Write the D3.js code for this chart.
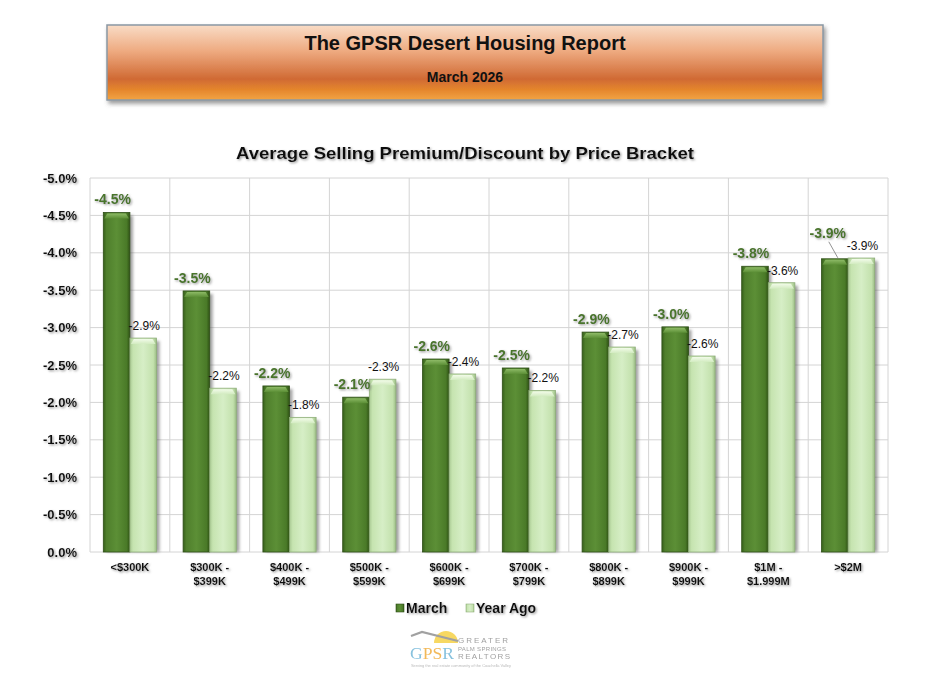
<!DOCTYPE html>
<html><head><meta charset="utf-8">
<script src="https://cdn.jsdelivr.net/npm/d3@7"></script>
<style>body{margin:0;background:#fff;}svg{display:block;font-family:"Liberation Sans",Arial,sans-serif;}</style>
</head><body><svg id="c" width="930" height="676"></svg>
<script>
const categories = ["<$300K","$300K - $399K","$400K - $499K","$500K - $599K","$600K - $699K","$700K - $799K","$800K - $899K","$900K - $999K","$1M - $1.999M",">$2M"];
const categoryLines = [["<$300K"],["$300K -","$399K"],["$400K -","$499K"],["$500K -","$599K"],["$600K -","$699K"],["$700K -","$799K"],["$800K -","$899K"],["$900K -","$999K"],["$1M -","$1.999M"],[">$2M"]];
const seriesNames = ["March","Year Ago"];
const marchValues = [-4.54,-3.49,-2.22,-2.07,-2.58,-2.46,-2.94,-3.01,-3.82,-3.92];
const yearAgoValues = [-2.86,-2.19,-1.80,-2.31,-2.38,-2.16,-2.74,-2.62,-3.60,-3.93];
const tickValues = [0,-0.5,-1,-1.5,-2,-2.5,-3,-3.5,-4,-4.5,-5];
const headerTitle = "The GPSR Desert Housing Report";
const headerSub = "March 2026";
const chartTitle = "Average Selling Premium/Discount by Price Bracket";

const svg = d3.select("#c");
const defs = svg.append("defs");

const hg = defs.append("linearGradient").attr("id","hdr").attr("x1",0).attr("y1",0).attr("x2",0).attr("y2",1);
[[0,"#f9dcc6"],[0.35,"#eeaa80"],[0.72,"#d06a34"],[0.86,"#e4852c"],[1,"#f2a444"]].forEach(s=>hg.append("stop").attr("offset",s[0]).attr("stop-color",s[1]));
const mg = defs.append("linearGradient").attr("id","mg").attr("x1",0).attr("x2",1).attr("y1",0).attr("y2",0);
[[0,"#365f1a"],[0.12,"#4f7f2c"],[0.5,"#5c8f36"],[0.88,"#4a7a28"],[1,"#2f5214"]].forEach(s=>mg.append("stop").attr("offset",s[0]).attr("stop-color",s[1]));
const yg = defs.append("linearGradient").attr("id","yg").attr("x1",0).attr("x2",1).attr("y1",0).attr("y2",0);
[[0,"#a9c993"],[0.12,"#c6e4b0"],[0.5,"#d6eec6"],[0.88,"#c3e1ad"],[1,"#9cbd86"]].forEach(s=>yg.append("stop").attr("offset",s[0]).attr("stop-color",s[1]));
const tg = defs.append("linearGradient").attr("id","mtop").attr("x1",0).attr("x2",0).attr("y1",0).attr("y2",1);
tg.append("stop").attr("offset",0).attr("stop-color","#8dba66");
tg.append("stop").attr("offset",1).attr("stop-color","#5c8f36");
const tg2 = defs.append("linearGradient").attr("id","ytop").attr("x1",0).attr("x2",0).attr("y1",0).attr("y2",1);
tg2.append("stop").attr("offset",0).attr("stop-color","#f2fbe9");
tg2.append("stop").attr("offset",1).attr("stop-color","#d2ebc0");

const ts = defs.append("filter").attr("id","ts").attr("x","-20%").attr("y","-40%").attr("width","140%").attr("height","180%");
ts.append("feDropShadow").attr("dx",1.2).attr("dy",1.2).attr("stdDeviation",0.9).attr("flood-color","#777").attr("flood-opacity",0.75);
const bs = defs.append("filter").attr("id","bs").attr("x","-30%").attr("y","-10%").attr("width","180%").attr("height","120%");
bs.append("feGaussianBlur").attr("stdDeviation",1.6);
const hs = defs.append("filter").attr("id","hs").attr("x","-5%").attr("y","-20%").attr("width","110%").attr("height","150%");
hs.append("feDropShadow").attr("dx",2).attr("dy",3).attr("stdDeviation",2).attr("flood-color","#555").attr("flood-opacity",0.6);

// header banner
svg.append("rect").attr("x",107).attr("y",25).attr("width",716).attr("height",75)
  .attr("fill","url(#hdr)").attr("stroke","#8a98a4").attr("stroke-width",1.5).attr("filter","url(#hs)");
svg.append("text").attr("x",465).attr("y",50).attr("text-anchor","middle").attr("font-weight","bold")
  .attr("font-size",20).attr("fill","#111").text(headerTitle);
svg.append("text").attr("x",465).attr("y",82).attr("text-anchor","middle").attr("font-weight","bold")
  .attr("font-size",14).attr("fill","#111").text(headerSub);

// chart title
svg.append("text").attr("x",465).attr("y",159).attr("text-anchor","middle").attr("font-weight","bold")
  .attr("font-size",17).attr("textLength",458).attr("lengthAdjust","spacingAndGlyphs")
  .attr("fill","#111").attr("filter","url(#ts)").text(chartTitle);

const x = d3.scaleBand().domain(categories).range([90,888]).paddingInner(0).paddingOuter(0);
const xs = d3.scaleBand().domain(seriesNames).range([0,x.bandwidth()]).paddingInner(0).paddingOuter(0.5);
const y = d3.scaleLinear().domain([0,-5]).range([552,178]);
const fmt = v=>v.toFixed(1)+"%";

// gridlines
const grid = svg.append("g");
grid.selectAll("line.h").data(tickValues).join("line").attr("class","h")
  .attr("x1",90).attr("x2",888).attr("y1",d=>y(d)).attr("y2",d=>y(d))
  .attr("stroke","#d4d4d4").attr("stroke-width",1);
const vEdges = categories.map(c=>x(c)).concat([x(categories[categories.length-1])+x.bandwidth()]);
grid.selectAll("line.v").data(vEdges).join("line").attr("class","v")
  .attr("x1",d=>d).attr("x2",d=>d).attr("y1",y(-5)).attr("y2",y(0)).attr("stroke","#d4d4d4").attr("stroke-width",1);

// y axis labels
const yAxis = d3.axisLeft(y).tickValues(tickValues).tickSize(0).tickPadding(0).tickFormat(d=>fmt(d));
const ya = svg.append("g").attr("transform","translate(77,0)").call(yAxis);
ya.select(".domain").remove();
ya.selectAll("text").attr("font-family","'Liberation Sans',Arial,sans-serif").attr("font-size",13)
  .attr("font-weight","bold").attr("fill","#111").attr("filter","url(#ts)");

// bars
const data = categories.map((c,i)=>({c,i,vals:[{s:"March",v:marchValues[i]},{s:"Year Ago",v:yearAgoValues[i]}]}));
const groups = svg.append("g").selectAll("g").data(data).join("g").attr("transform",d=>`translate(${x(d.c)},0)`);
const bw = xs.bandwidth();
groups.each(function(d){
  const g = d3.select(this);
  d.vals.forEach(o=>{
    const bx = xs(o.s), top = y(o.v), h = y(0)-top;
    g.append("rect").attr("x",bx+3).attr("y",top+3).attr("width",bw).attr("height",h-3)
      .attr("fill","#555").attr("opacity",0.55).attr("filter","url(#bs)");
  });
  d.vals.forEach(o=>{
    const bx = xs(o.s), top = y(o.v), h = y(0)-top;
    const isM = o.s==="March";
    g.append("rect").attr("x",bx).attr("y",top).attr("width",bw).attr("height",h)
      .attr("fill",isM?"url(#mg)":"url(#yg)").attr("stroke",isM?"#2f4f18":"#8fae7a").attr("stroke-width",0.8);
    g.append("path").attr("d",`M${bx+1},${top+6} L${bx+4},${top+1} L${bx+bw-4},${top+1} L${bx+bw-1},${top+6} Z`)
      .attr("fill",isM?"url(#mtop)":"url(#ytop)");
  });
});

// value labels
groups.each(function(d){
  const g = d3.select(this);
  const m = d.vals[0], ya2 = d.vals[1];
  const last = d.i===categories.length-1;
  const mx = xs("March")+bw/2 + (last?-7:-4);
  const my = y(m.v) - (last?21:8);
  if(last){
    g.append("line").attr("x1",mx+1).attr("y1",my+4).attr("x2",xs("March")+bw/2+3).attr("y2",y(m.v)-1)
      .attr("stroke","#777").attr("stroke-width",0.8);
  }
  g.append("text").attr("x",mx).attr("y",my).attr("text-anchor","middle").attr("font-weight","bold")
    .attr("font-size",14).attr("fill","#4a752c").attr("filter","url(#ts)").text(fmt(m.v));
  g.append("text").attr("x",xs("Year Ago")+bw/2+1).attr("y",y(ya2.v)-8).attr("text-anchor","middle")
    .attr("font-size",12).attr("fill","#111").text(fmt(ya2.v));
});

// x labels
const xl = svg.append("g").selectAll("text").data(categories).join("text")
  .attr("x",d=>x(d)+x.bandwidth()/2).attr("y",571).attr("text-anchor","middle")
  .attr("font-size",11).attr("font-weight","bold").attr("fill","#111").attr("filter","url(#ts)");
xl.each(function(d,i){
  const t = d3.select(this);
  categoryLines[i].forEach((ln,j)=>t.append("tspan").attr("x",x(d)+x.bandwidth()/2).attr("dy",j?14:0).text(ln));
});

// legend
const leg = svg.append("g").attr("transform","translate(396,603)");
const legItems = [{n:"March",f:"url(#mg)",s:"#2f4f18",x:0},{n:"Year Ago",f:"url(#yg)",s:"#8fae7a",x:70}];
legItems.forEach(l=>{
  leg.append("rect").attr("x",l.x).attr("y",1).attr("width",8).attr("height",8).attr("fill",l.f).attr("stroke",l.s).attr("stroke-width",0.6);
  leg.append("text").attr("x",l.x+10).attr("y",10).attr("font-size",14).attr("font-weight","bold")
    .attr("fill","#111").attr("filter","url(#ts)").text(l.n);
});

// logo
const lg = svg.append("g").attr("opacity",0.8);
lg.append("path").attr("d","M434,643 A12,12 0 0,1 458,643 Z").attr("fill","#f6cf3c");
lg.append("path").attr("d","M411,636 L422,632 L458,641").attr("fill","none").attr("stroke","#8a8a8a").attr("stroke-width",2.2);
lg.append("text").attr("x",410).attr("y",659).attr("font-size",16).attr("font-family","'Liberation Serif',serif")
  .attr("textLength",44).attr("lengthAdjust","spacingAndGlyphs")
  .html('<tspan fill="#6ab3d6">G</tspan><tspan fill="#f0a830">PS</tspan><tspan fill="#6ab3d6">R</tspan>');
lg.append("text").attr("x",458).attr("y",643).attr("font-size",8).attr("textLength",50).attr("fill","#888").text("GREATER");
lg.append("text").attr("x",458).attr("y",651).attr("font-size",6).attr("textLength",48).attr("fill","#888").text("PALM SPRINGS");
lg.append("text").attr("x",458).attr("y",659).attr("font-size",8).attr("textLength",52).attr("fill","#888").text("REALTORS");
lg.append("text").attr("x",411).attr("y",667).attr("font-size",4).attr("fill","#aaa").attr("textLength",100).text("Serving the real estate community of the Coachella Valley");
</script></body></html>
